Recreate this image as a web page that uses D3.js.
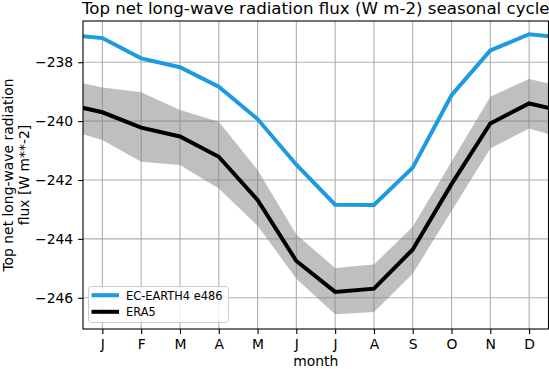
<!DOCTYPE html>
<html>
<head>
<meta charset="utf-8">
<script src="https://cdn.jsdelivr.net/npm/d3@7"></script>
<style>
  body { margin: 0; background: #fff; }
  svg { display: block; font-family: "DejaVu Sans", sans-serif; }
</style>
</head>
<body>
<div id="chart"></div>
<script>
// Month labels and the monthly values
const months = ["J", "F", "M", "A", "M", "J", "J", "A", "S", "O", "N", "D"];
const ecEarth = [-237.18, -237.87, -238.17, -238.83, -239.93, -241.48, -242.84, -242.85, -241.58, -239.12, -237.60, -237.05];
const era5 = [-239.70, -240.22, -240.52, -241.21, -242.68, -244.75, -245.80, -245.69, -244.36, -242.14, -240.08, -239.40];
const era5Upper = [-238.86, -239.02, -239.62, -240.02, -241.66, -243.85, -244.99, -244.87, -243.59, -241.38, -239.17, -238.57];
const era5Lower = [-240.64, -241.38, -241.49, -242.29, -243.55, -245.35, -246.56, -246.48, -245.18, -243.05, -240.93, -240.25];
const yTicks = [-246, -244, -242, -240, -238];

const width = 549, height = 369;
const margin = { left: 83, right: 548.5, top: 21, bottom: 329 };
const fs = 13.9; // 10pt at 100 dpi

const svg = d3.select("#chart").append("svg")
    .attr("width", width)
    .attr("height", height);

const x = d3.scaleLinear().domain([0.5, 12.5]).range([margin.left, margin.right]);
const y = d3.scaleLinear().domain([-247.06, -236.6]).range([margin.bottom, margin.top]);

// cycle wraps around: December before January, January after December
function wrap(arr) {
    const pts = arr.map((v, i) => ({ m: i + 1, v: v }));
    return [{ m: 0, v: arr[11] }, ...pts, { m: 13, v: arr[0] }];
}

svg.append("clipPath").attr("id", "plot-clip")
    .append("rect")
    .attr("x", margin.left).attr("y", margin.top)
    .attr("width", margin.right - margin.left).attr("height", margin.bottom - margin.top);

// grid
const grid = svg.append("g");
grid.selectAll(".vg")
    .data(d3.range(1, 13))
    .enter().append("line")
    .attr("x1", d => x(d)).attr("x2", d => x(d))
    .attr("y1", margin.top).attr("y2", margin.bottom)
    .attr("stroke", "#b0b0b0").attr("stroke-width", 1.1);
grid.selectAll(".hg")
    .data(yTicks)
    .enter().append("line")
    .attr("x1", margin.left).attr("x2", margin.right)
    .attr("y1", d => y(d)).attr("y2", d => y(d))
    .attr("stroke", "#b0b0b0").attr("stroke-width", 1.1);

const plot = svg.append("g").attr("clip-path", "url(#plot-clip)");

// ERA5 spread band
const lowerW = wrap(era5Lower);
const bandData = wrap(era5Upper).map((d, i) => ({ m: d.m, hi: d.v, lo: lowerW[i].v }));
plot.append("path")
    .datum(bandData)
    .attr("d", d3.area().x(d => x(d.m)).y0(d => y(d.lo)).y1(d => y(d.hi)))
    .attr("fill", "#808080")
    .attr("fill-opacity", 0.5);

const line = d3.line().x(d => x(d.m)).y(d => y(d.v));

plot.append("path")
    .datum(wrap(ecEarth))
    .attr("d", line)
    .attr("fill", "none")
    .attr("stroke", "#1e9be0")
    .attr("stroke-width", 4);

plot.append("path")
    .datum(wrap(era5))
    .attr("d", line)
    .attr("fill", "none")
    .attr("stroke", "#000")
    .attr("stroke-width", 4);

// axes
const xAxis = svg.append("g")
    .attr("transform", `translate(0,${margin.bottom})`)
    .call(d3.axisBottom(x).tickValues(d3.range(1, 13)).tickFormat(d => months[d - 1]).tickSize(4.9).tickPadding(4.9));
const yAxis = svg.append("g")
    .attr("transform", `translate(${margin.left},0)`)
    .call(d3.axisLeft(y).tickValues(yTicks).tickFormat(d => "\u2212" + Math.abs(d)).tickSize(4.9).tickPadding(4.9));

[xAxis, yAxis].forEach(a => {
    a.select(".domain").remove();
    a.selectAll("text").attr("font-size", fs + "px").attr("fill", "#000").attr("font-family", "DejaVu Sans");
    a.selectAll(".tick line").attr("stroke", "#000").attr("stroke-width", 1.1);
});

// frame
svg.append("rect")
    .attr("x", margin.left).attr("y", margin.top)
    .attr("width", margin.right - margin.left).attr("height", margin.bottom - margin.top)
    .attr("fill", "none")
    .attr("stroke", "#000")
    .attr("stroke-width", 1.1);

// titles
svg.append("text")
    .attr("x", (margin.left + margin.right) / 2).attr("y", 14)
    .attr("text-anchor", "middle")
    .attr("font-size", "16.67px")
    .text("Top net long-wave radiation flux (W m-2) seasonal cycle");

svg.append("text")
    .attr("x", (margin.left + margin.right) / 2).attr("y", 366)
    .attr("text-anchor", "middle")
    .attr("font-size", fs + "px")
    .text("month");

const yl = svg.append("text")
    .attr("transform", `translate(12.5,${(margin.top + margin.bottom) / 2}) rotate(-90)`)
    .attr("text-anchor", "middle")
    .attr("font-size", fs + "px");
yl.append("tspan").attr("x", 0).attr("dy", 0).text("Top net long-wave radiation");
yl.append("tspan").attr("x", 0).attr("dy", 16).text("flux [W m**-2]");

// legend
const legend = svg.append("g");
legend.append("rect")
    .attr("x", 88.5).attr("y", 286.5)
    .attr("width", 140).attr("height", 36)
    .attr("rx", 3)
    .attr("fill", "#fff").attr("fill-opacity", 0.8)
    .attr("stroke", "#cccccc").attr("stroke-width", 1);

const legendItems = [
    { label: "EC-EARTH4 e486", color: "#1e9be0" },
    { label: "ERA5", color: "#000" }
];
legendItems.forEach((d, i) => {
    const yy = 295.2 + i * 16.6;
    legend.append("line")
        .attr("x1", 91.5).attr("x2", 119)
        .attr("y1", yy).attr("y2", yy)
        .attr("stroke", d.color).attr("stroke-width", 4);
    legend.append("text")
        .attr("x", 126).attr("y", yy + 4.3)
        .attr("font-size", "11.4px")
        .text(d.label);
});
</script>
</body>
</html>
